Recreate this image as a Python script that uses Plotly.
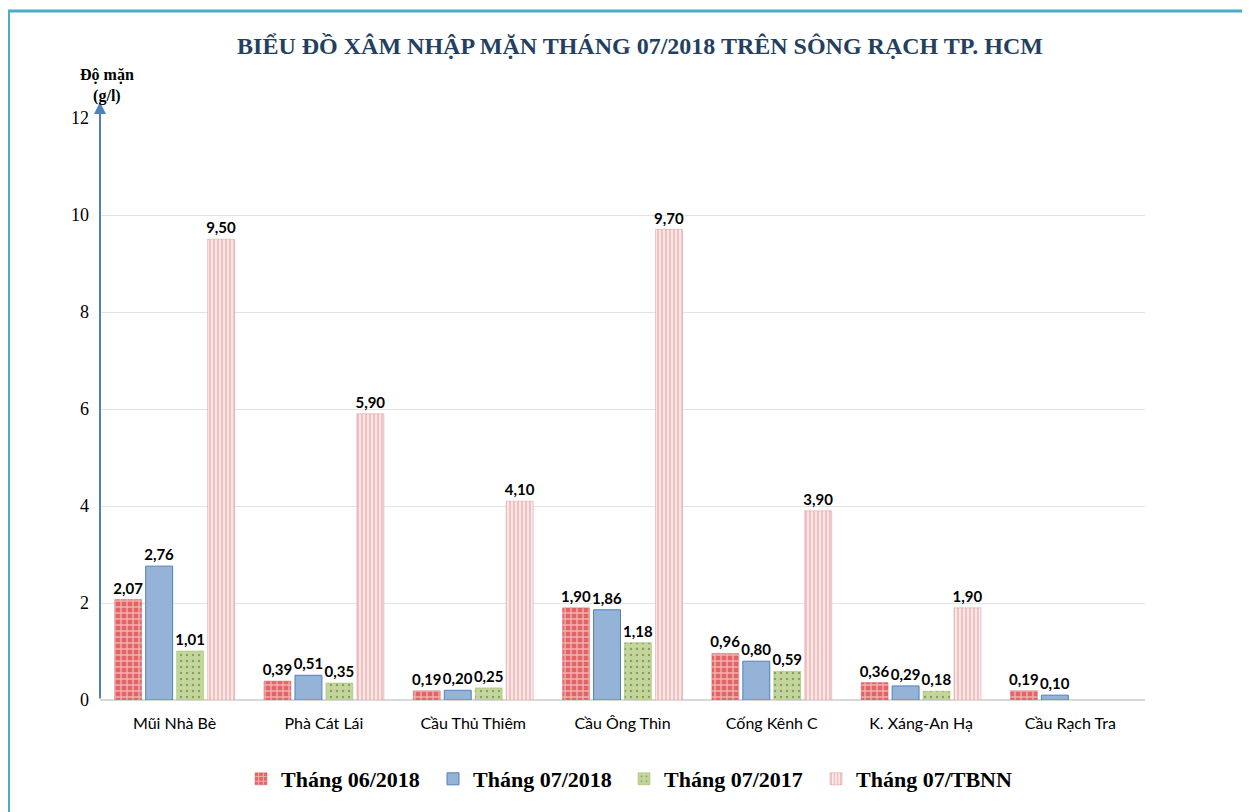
import plotly.graph_objects as go

categories = ["Mũi Nhà Bè", "Phà Cát Lái", "Cầu Thủ Thiêm", "Cầu Ông Thìn",
              "Cống Kênh C", "K. Xáng-An Hạ", "Cầu Rạch Tra"]
series_names = ["Tháng 06/2018", "Tháng 07/2018", "Tháng 07/2017", "Tháng 07/TBNN"]
thang_06_2018 = [2.07, 0.39, 0.19, 1.90, 0.96, 0.36, 0.19]
thang_07_2018 = [2.76, 0.51, 0.20, 1.86, 0.80, 0.29, 0.10]
thang_07_2017 = [1.01, 0.35, 0.25, 1.18, 0.59, 0.18, None]
thang_07_tbnn = [9.50, 5.90, 4.10, 9.70, 3.90, 1.90, None]
y_ticks = [0, 2, 4, 6, 8, 10, 12]

series_values = [thang_06_2018, thang_07_2018, thang_07_2017, thang_07_tbnn]

styles = [
    dict(color="#e65c5c", line=dict(color="#d07070", width=0.5),
         pattern=dict(shape="+", fgcolor="#ffffff", bgcolor="#e36464", size=6, solidity=0.4)),
    dict(color="#95b3d7", line=dict(color="#4f81bd", width=1)),
    dict(color="#c3d69b", line=dict(color="#9bbb59", width=0.5),
         pattern=dict(shape=".", fgcolor="#4f6228", bgcolor="#c3d69b", size=6, solidity=0.12)),
    dict(color="#f2b8b8", line=dict(color="#d99694", width=0.5),
         pattern=dict(shape="|", fgcolor="#e57373", bgcolor="#fde9e9", size=4, solidity=0.35)),
]

def fmt(v):
    return "" if v is None else f"{v:.2f}".replace(".", ",")

# page body has an 8px margin: target pixel coords are shifted by OFF
OFF = 8
W, H = 1242, 804
L, T = 100 - OFF, 118 - OFF
R = W - (1145 - OFF)
B = H - (700 - OFF)
pw = W - L - R
ph = H - T - B

def px_x(x):
    return (x - OFF - L) / pw

def px_y(y):
    return (H - B - (y - OFF)) / ph

legend_ids = ["legend", "legend2", "legend3", "legend4"]
legend_text_x = [278, 470, 661, 853]

fig = go.Figure()
for name, vals, st, lid in zip(series_names, series_values, styles, legend_ids):
    fig.add_trace(go.Bar(
        name=name, x=categories, y=vals,
        marker=st, legend=lid,
        text=[fmt(v) for v in vals], textposition="outside",
        textfont=dict(family="Lato", size=15, color="#000000", weight="bold"),
        constraintext="none",
        cliponaxis=False,
    ))

legend_style = dict(orientation="h", xanchor="left", y=px_y(779), yanchor="middle",
                    font=dict(family="Liberation Serif", size=22, color="#000000", weight="bold"),
                    itemwidth=30, bgcolor="rgba(0,0,0,0)")

layout_legends = {}
for lid, tx in zip(legend_ids, legend_text_x):
    layout_legends[lid] = dict(legend_style, x=px_x(tx - 37))

fig.update_layout(
    width=W, height=H,
    margin=dict(l=L, r=R, t=T, b=B),
    paper_bgcolor="white", plot_bgcolor="white",
    barmode="group", bargap=0.17, bargroupgap=0.13,
    title=dict(text="<b>BIỂU ĐỒ XÂM NHẬP MẶN THÁNG 07/2018 TRÊN SÔNG RẠCH TP. HCM</b>",
               x=(640 - OFF) / W, xanchor="center", y=1 - (46 - OFF) / H, yanchor="middle",
               font=dict(family="Liberation Serif", size=24, color="#243f60")),
    yaxis=dict(range=[0, 12], tickvals=y_ticks, showgrid=True, gridcolor="#e3e3e3",
               gridwidth=1, zeroline=True, zerolinecolor="#d9d9d9", zerolinewidth=2,
               showline=False, ticks="", ticklabelstandoff=10,
               tickfont=dict(family="Liberation Serif", size=18, color="#000000")),
    xaxis=dict(showline=False, ticks="", ticklabelstandoff=12,
               tickfont=dict(family="Lato", size=16, color="#000000")),
    showlegend=True,
    **layout_legends,
)

# chart frame border (top and left edges)
fig.add_shape(type="line", xref="paper", yref="paper",
              x0=px_x(8), x1=px_x(1250), y0=px_y(11), y1=px_y(11),
              line=dict(color="#4bacc6", width=3))
fig.add_shape(type="line", xref="paper", yref="paper",
              x0=px_x(8.5), x1=px_x(8.5), y0=px_y(11), y1=px_y(812),
              line=dict(color="#4bacc6", width=3))

# y-axis line with arrow
fig.add_annotation(xref="paper", yref="paper", x=0, y=px_y(102),
                   axref="pixel", ayref="pixel", ax=0, ay=598,
                   showarrow=True, arrowhead=2, arrowsize=1.2, arrowwidth=2,
                   arrowcolor="#4f81bd", text="")

fig.add_annotation(xref="paper", yref="paper", x=px_x(107), y=px_y(86),
                   xanchor="center", yanchor="middle", showarrow=False,
                   text="<b>Độ mặn<br>(g/l)</b>",
                   font=dict(family="Liberation Serif", size=16, color="#000000"))

fig.write_html("out.html")
